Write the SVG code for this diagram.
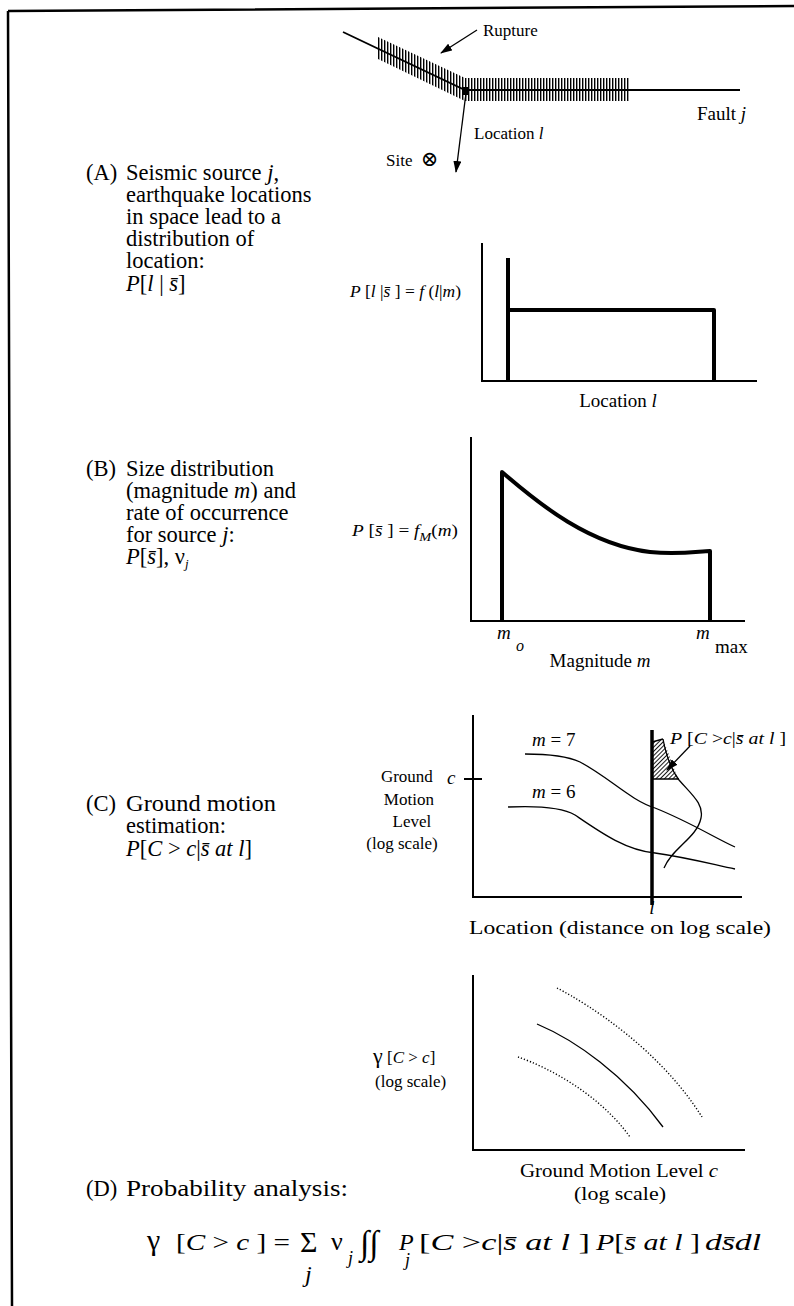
<svg xmlns="http://www.w3.org/2000/svg" width="794" height="1306" viewBox="0 0 794 1306">
<style>
text{font-family:"Liberation Serif","DejaVu Serif",serif;fill:#000}
.body{font-size:22.5px}
.lab{font-size:19px}
.lab17{font-size:17px}
.sm{font-size:16px}
.eq{font-size:24px}
.i{font-style:italic}
.ax{stroke:#000;stroke-width:2;fill:none}
.thick{stroke:#000;stroke-width:4;fill:none;stroke-linejoin:round}
.thin{stroke:#000;stroke-width:1.3;fill:none}
.dot{stroke:#000;stroke-width:1.4;fill:none;stroke-dasharray:1.2 2}
.mid{text-anchor:middle}
</style>
<defs>
<marker id="arr" viewBox="0 0 12 8" refX="11" refY="4" markerWidth="12" markerHeight="8" orient="auto" markerUnits="userSpaceOnUse"><path d="M0,0 L12,4 L0,8 z" fill="#000"/></marker>
<pattern id="vhatch" width="3" height="20" patternUnits="userSpaceOnUse"><rect x="0" y="0" width="1.4" height="20" fill="#000"/></pattern>
<pattern id="dhatch" width="3" height="3" patternUnits="userSpaceOnUse" patternTransform="rotate(45)"><rect width="0.9" height="3" fill="#000"/></pattern>
</defs>

<g id="frame"><path d="M8,11 L794,6 M8,11 L12,1306" stroke="#000" stroke-width="2.5" fill="none"/></g>

<g id="fault">
<polygon points="378,37 465,78 630,78 630,101 465,101 378,59" fill="url(#vhatch)"/>
<polyline points="343,32 465,90 740,90" stroke="#000" stroke-width="1.8" fill="none"/>
<rect x="462" y="87" width="6" height="8" fill="#000"/>
<text x="483" y="36" class="lab17">Rupture</text>
<text x="697" y="120" class="lab">Fault <tspan class="i">j</tspan></text>
<text x="474" y="139" class="lab17">Location <tspan class="i">l</tspan></text>
<text x="386" y="166" class="lab17">Site <tspan font-size="21" font-family="DejaVu Serif" dx="4">⊗</tspan></text>
</g>

<g id="connectors">
<line x1="477" y1="30" x2="441" y2="53" class="thin" stroke-width="1.8" marker-end="url(#arr)"/>
<line x1="466" y1="93" x2="456" y2="172" class="thin" stroke-width="1.8" marker-end="url(#arr)"/>
<line x1="690" y1="746" x2="667" y2="770" class="thin" stroke-width="1.6" marker-end="url(#arr)"/>
</g>

<g id="panelA">
<text x="86" y="180" class="body">(A)</text>
<text class="body">
<tspan x="126" y="180">Seismic source <tspan class="i">j</tspan>,</tspan>
<tspan x="126" y="202">earthquake locations</tspan>
<tspan x="126" y="224">in space lead to a</tspan>
<tspan x="126" y="246">distribution of</tspan>
<tspan x="126" y="268">location:</tspan>
<tspan x="126" y="291"><tspan class="i">P</tspan>[<tspan class="i">l</tspan> | <tspan class="i">s̄</tspan>]</tspan>
</text>
<text x="350" y="297" class="sm" textLength="111" lengthAdjust="spacingAndGlyphs"><tspan class="i">P</tspan> [<tspan class="i">l</tspan> |<tspan class="i">s̄</tspan> ] = <tspan class="i">f</tspan> (<tspan class="i">l</tspan>|<tspan class="i">m</tspan>)</text>
<path class="ax" d="M482,243 L482,381 L757,381"/>
<path class="thick" d="M508,258 L508,381 M508,310 L714,310 L714,381"/>
<text x="618" y="407" class="lab mid">Location <tspan class="i">l</tspan></text>
</g>

<g id="panelB">
<text x="86" y="476" class="body">(B)</text>
<text class="body">
<tspan x="126" y="476">Size distribution</tspan>
<tspan x="126" y="498">(magnitude <tspan class="i">m</tspan>) and</tspan>
<tspan x="126" y="520">rate of occurrence</tspan>
<tspan x="126" y="542">for source <tspan class="i">j</tspan>:</tspan>
<tspan x="126" y="564"><tspan class="i">P</tspan>[<tspan class="i">s̄</tspan>], ν<tspan class="i" font-size="13" dy="4">j</tspan></tspan>
</text>
<text x="352" y="536" class="sm" textLength="106" lengthAdjust="spacingAndGlyphs"><tspan class="i">P</tspan> [<tspan class="i">s̄</tspan> ] = <tspan class="i">f</tspan><tspan class="i" font-size="12" dy="5">M</tspan><tspan dy="-5">(</tspan><tspan class="i">m</tspan>)</text>
<path class="ax" d="M471,437 L471,621 L745,621"/>
<path class="thick" d="M502,621 L502,472 C540,505 590,545 650,552 C680,555 700,551 710,551 L710,621"/>
<text x="497" y="639" class="lab i">m</text>
<text x="516" y="651" class="sm i">o</text>
<text x="696" y="639" class="lab i">m</text>
<text x="715" y="653" class="lab">max</text>
<text x="600" y="667" class="lab mid">Magnitude <tspan class="i">m</tspan></text>
</g>

<g id="panelC">
<text x="86" y="811" class="body">(C)</text>
<text class="body">
<tspan x="126" y="811" textLength="150" lengthAdjust="spacingAndGlyphs">Ground motion</tspan>
<tspan x="126" y="833">estimation:</tspan>
<tspan x="126" y="856"><tspan class="i">P</tspan>[<tspan class="i">C</tspan> &gt; <tspan class="i">c</tspan>|<tspan class="i">s̄ at l</tspan>]</tspan>
</text>
<text class="lab17 mid">
<tspan x="409" y="782">Ground</tspan>
<tspan x="411" y="805">Motion</tspan>
<tspan x="414" y="827">Level</tspan>
<tspan x="402" y="849">(log scale)</tspan>
</text>
<path class="ax" d="M473,715 L473,897 L742,897"/>
<path class="ax" d="M464,779 L482,779"/>
<text x="447" y="784" class="lab i">c</text>
<polygon points="652,742 663,739 678,779 652,779" fill="url(#dhatch)"/>
<path class="thin" d="M652,742 L663,739 M652,779 L679,779"/>
<path d="M652,730 L652,905" stroke="#000" stroke-width="3.5"/>
<path class="thin" d="M663,739 C666,755 670,768 679,780 C692,795 704,804 701,818 C697,838 672,848 664,868"/>
<path class="thin" d="M525,754 C545,754 565,755 580,762 C610,778 630,800 655,808 C690,822 715,838 735,847"/>
<path class="thin" d="M508,807 C530,806 560,806 575,815 C600,832 625,850 655,853 C690,858 715,865 735,869"/>
<text x="532" y="746" class="lab"><tspan class="i">m</tspan> = 7</text>
<text x="532" y="798" class="lab"><tspan class="i">m</tspan> = 6</text>
<text x="670" y="744" class="lab17" textLength="116" lengthAdjust="spacingAndGlyphs"><tspan class="i">P</tspan> [<tspan class="i">C</tspan> &gt;<tspan class="i">c</tspan>|<tspan class="i">s̄ at l</tspan> ]</text>
<text x="652" y="914" class="lab i mid">l</text>
<text x="620" y="934" class="lab mid" textLength="302" lengthAdjust="spacingAndGlyphs">Location (distance on log scale)</text>
</g>

<g id="panelD">
<path class="ax" d="M473,975 L473,1150 L745,1150"/>
<path class="thin" stroke-width="1.6" d="M537,1024 C575,1040 625,1075 663,1127"/>
<path class="dot" d="M557,988 C590,1005 660,1050 702,1117"/>
<path class="dot" d="M518,1057 C550,1068 600,1095 630,1137"/>
<text x="373" y="1063" class="lab17"><tspan font-size="22">γ</tspan> [<tspan class="i">C</tspan> &gt; <tspan class="i">c</tspan>]</text>
<text x="375" y="1087" class="lab17">(log scale)</text>
<text x="619" y="1177" class="lab mid" textLength="198" lengthAdjust="spacingAndGlyphs">Ground Motion Level <tspan class="i">c</tspan></text>
<text x="620" y="1200" class="lab mid" textLength="92" lengthAdjust="spacingAndGlyphs">(log scale)</text>
<text x="86" y="1196" class="body">(D)</text>
<text x="126" y="1196" class="body" font-size="23" textLength="222" lengthAdjust="spacingAndGlyphs">Probability analysis:</text>
</g>

<g id="equation">
<text x="147" y="1250" font-size="30">γ</text>
<text x="176" y="1250" class="eq" textLength="114" lengthAdjust="spacingAndGlyphs">[<tspan class="i">C</tspan> &gt; <tspan class="i">c</tspan> ] =</text>
<text x="300" y="1252" font-size="30">Σ</text>
<text x="305" y="1282" class="eq i">j</text>
<text x="331" y="1250" font-size="26">ν</text>
<text x="348" y="1264" class="i" font-size="18">j</text>
<text x="360" y="1254" font-size="34" class="i">∫∫</text>
<text x="399" y="1250" class="eq i">P</text>
<text x="405" y="1266" class="i" font-size="18">j</text>
<text x="419" y="1250" class="eq" textLength="171" lengthAdjust="spacingAndGlyphs">[<tspan class="i">C</tspan> &gt;<tspan class="i">c</tspan>|<tspan class="i">s̄ at l</tspan> ]</text>
<text x="596" y="1250" class="eq" textLength="104" lengthAdjust="spacingAndGlyphs"><tspan class="i">P</tspan>[<tspan class="i">s̄ at l</tspan> ]</text>
<text x="705" y="1250" class="eq i" textLength="56" lengthAdjust="spacingAndGlyphs">ds̄dl</text>
</g>
</svg>
